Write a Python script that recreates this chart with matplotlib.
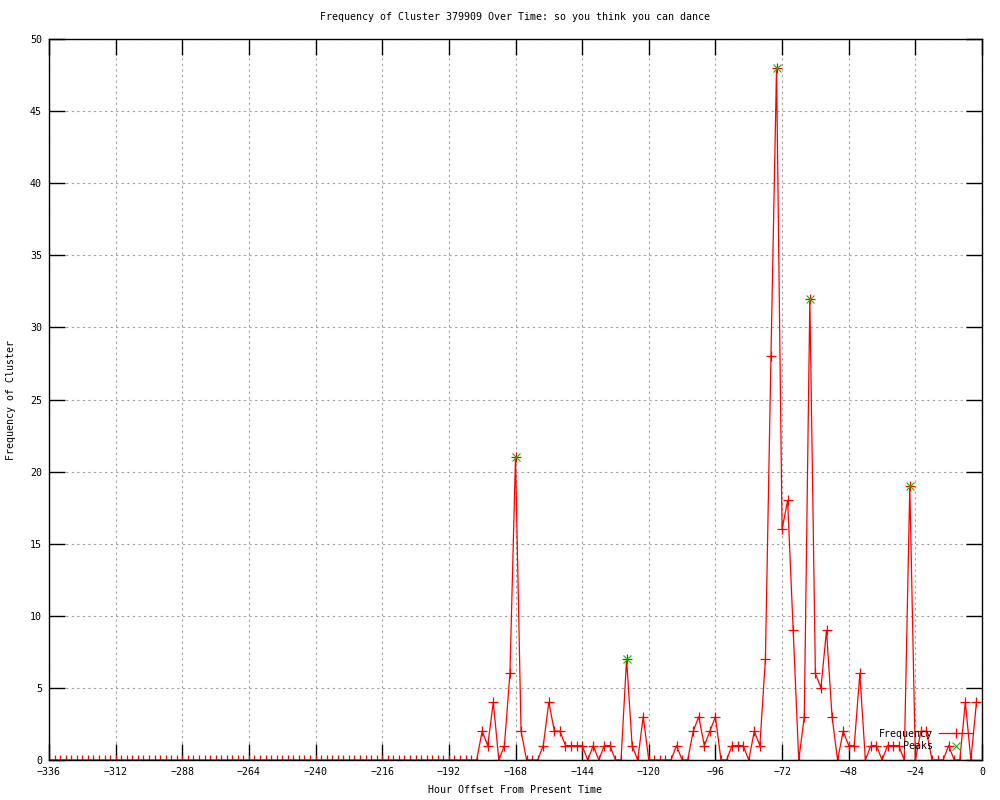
import numpy as np
import matplotlib
matplotlib.use("Agg")
import matplotlib.pyplot as plt

# hours before now, one sample every 2 hours
hours = np.arange(-336, 0, 2)

# counts from -180 to -2 (everything earlier is zero)
recent = [2, 1, 4, 0, 1, 6, 21, 2, 0, 0, 0, 1, 4, 2, 2, 1, 1, 1, 1, 0,
          1, 0, 1, 1, 0, 0, 7, 1, 0, 3, 0, 0, 0, 0, 0, 1, 0, 0, 2, 3,
          1, 2, 3, 0, 0, 1, 1, 1, 0, 2, 1, 7, 28, 48, 16, 18, 9, 0, 3, 32,
          6, 5, 9, 3, 0, 2, 1, 1, 6, 0, 1, 1, 0, 1, 1, 1, 0, 19, 0, 2,
          2, 0, 0, 0, 1, 0, 0, 4, 0, 4]
freq = np.array([0] * (len(hours) - len(recent)) + recent)

peak_hours = [-168, -128, -74, -62, -26]
peak_vals = [21, 7, 48, 32, 19]

xticks = np.arange(-336, 1, 24)
yticks = np.arange(0, 51, 5)

title = "Frequency of Cluster 379909 Over Time: so you think you can dance"

plt.rcParams['font.family'] = ['DejaVu Sans Mono']
fs = 7.2

fig = plt.figure(figsize=(10, 8), dpi=100)
ax = fig.add_axes([0.049, 0.05, 0.933, 0.90125])

ax.plot(hours, freq, color='#ff0000', lw=0.9, marker='+', ms=7,
        mew=0.9, label='Frequency')
ax.plot(peak_hours, peak_vals, ls='none', color='#00c000', marker='x',
        ms=5.5, mew=0.8, label='Peaks')

ax.set_xlim(-336, 0)
ax.set_ylim(0, 50)
ax.set_xticks(xticks)
ax.set_yticks(yticks)
ax.tick_params(direction='in', length=11.5, width=1, top=True, right=True,
               labelsize=fs, pad=5)
for s in ax.spines.values():
    s.set_linewidth(1)
ax.grid(True, color='#a0a0a0', ls=(0, (2, 3)), lw=0.8)
ax.set_axisbelow(True)

ax.set_title(title, fontsize=fs, pad=14)
ax.set_xlabel("Hour Offset From Present Time", fontsize=fs, labelpad=6)
ax.set_ylabel("Frequency of Cluster", fontsize=fs, labelpad=10)

ax.legend(loc='lower right', bbox_to_anchor=(0.99, 0.012), frameon=False,
          markerfirst=False, fontsize=fs, handlelength=3.4,
          handletextpad=0.6, labelspacing=0.25, borderpad=0,
          borderaxespad=0)

fig.savefig('out.png', dpi=100)
